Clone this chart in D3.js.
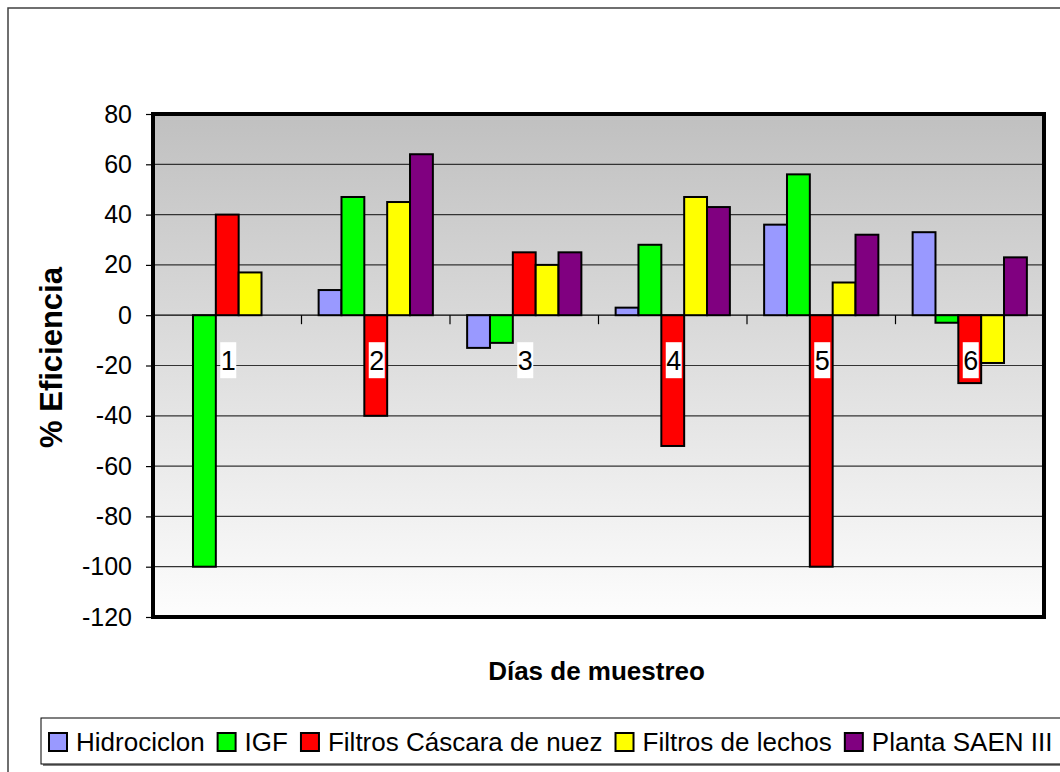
<!DOCTYPE html>
<html>
<head>
<meta charset="utf-8">
<script src="https://cdn.jsdelivr.net/npm/d3@7"></script>
<style>
  html, body { margin: 0; padding: 0; background: #fff; }
  svg { display: block; font-family: "Liberation Sans", Arial, sans-serif; }
</style>
</head>
<body>
<svg id="chart" width="1060" height="772"></svg>
<script>
// Sampling days (categories)
const days = ["1", "2", "3", "4", "5", "6"];

// Treatment stages (series) and their colours
const seriesNames = ["Hidrociclon", "IGF", "Filtros Cáscara de nuez", "Filtros de lechos", "Planta SAEN III"];
const seriesColors = ["#9999FF", "#00FF00", "#FF0000", "#FFFF00", "#800080"];

// % efficiency per day, one array per series (null = no value)
const hidrociclon = [null, 10, -13, 3, 36, 33];
const igf = [-100, 47, -11, 28, 56, -3];
const filtrosCascara = [40, -40, 25, -52, -100, -27];
const filtrosLechos = [17, 45, 20, 47, 13, -19];
const plantaSaen = [null, 64, 25, 43, 32, 23];

// Y axis ticks
const yTicks = [80, 60, 40, 20, 0, -20, -40, -60, -80, -100, -120];

const seriesValues = [hidrociclon, igf, filtrosCascara, filtrosLechos, plantaSaen];

const svg = d3.select("#chart");

// Plot area box
const plot = { left: 153, top: 114, right: 1044, bottom: 617 };

const y = d3.scaleLinear().domain([-120, 80]).range([plot.bottom, plot.top]);
const x0 = d3.scaleBand().domain(days).range([plot.left, plot.right]).padding(0);
const x1 = d3.scaleBand().domain(seriesNames).range([0, x0.bandwidth()])
  .paddingInner(0).paddingOuter(0.75);

// Outer chart frame
svg.append("rect")
  .attr("x", 8).attr("y", 8).attr("width", 1070).attr("height", 790)
  .attr("fill", "none").attr("stroke", "#404040").attr("stroke-width", 1.5);

// Plot background gradient
const defs = svg.append("defs");
const grad = defs.append("linearGradient").attr("id", "bg")
  .attr("x1", 0).attr("y1", 0).attr("x2", 0).attr("y2", 1);
grad.append("stop").attr("offset", "0%").attr("stop-color", "#c0c0c0");
grad.append("stop").attr("offset", "100%").attr("stop-color", "#fdfdfd");

svg.append("rect")
  .attr("x", plot.left).attr("y", plot.top)
  .attr("width", plot.right - plot.left).attr("height", plot.bottom - plot.top)
  .attr("fill", "url(#bg)");

// Horizontal gridlines
svg.append("g")
  .selectAll("line")
  .data(yTicks)
  .join("line")
  .attr("x1", plot.left).attr("x2", plot.right)
  .attr("y1", d => y(d)).attr("y2", d => y(d))
  .attr("stroke", d => d === 0 ? "#000" : "#333")
  .attr("stroke-width", 1.2);

// Category tick marks on the zero line
svg.append("g")
  .selectAll("line")
  .data(days.slice(1))
  .join("line")
  .attr("x1", d => x0(d)).attr("x2", d => x0(d))
  .attr("y1", y(0)).attr("y2", y(0) + 9)
  .attr("stroke", "#000").attr("stroke-width", 1.2);

// Bars
const groups = svg.append("g")
  .selectAll("g")
  .data(days)
  .join("g")
  .attr("transform", d => `translate(${x0(d)},0)`);

groups.selectAll("rect")
  .data((d, i) => seriesNames.map((s, j) => ({ s, j, v: seriesValues[j][i] })).filter(e => e.v !== null))
  .join("rect")
  .attr("x", e => x1(e.s))
  .attr("width", x1.bandwidth())
  .attr("y", e => y(Math.max(0, e.v)))
  .attr("height", e => Math.abs(y(e.v) - y(0)))
  .attr("fill", e => seriesColors[e.j])
  .attr("stroke", "#000")
  .attr("stroke-width", 2);

// Category labels with white backing, placed below the zero line
const catLabels = svg.append("g")
  .selectAll("g")
  .data(days)
  .join("g")
  .attr("transform", d => `translate(${x0(d) + x0.bandwidth() / 2 + 1},${y(0) + 45})`);

catLabels.append("rect")
  .attr("x", -8).attr("y", -18).attr("width", 16).attr("height", 36)
  .attr("fill", "#fff");

catLabels.append("text")
  .attr("text-anchor", "middle")
  .attr("dy", "0.36em")
  .attr("font-size", 27)
  .attr("fill", "#000")
  .text(d => d);

// Y axis (plain hyphen for negatives)
const yAxis = d3.axisLeft(y).tickValues(yTicks).tickSize(7).tickPadding(14).tickFormat(d => String(d));
const yg = svg.append("g").attr("transform", `translate(${plot.left},0)`).call(yAxis);
yg.select(".domain").remove();
yg.selectAll(".tick line").attr("stroke", "#000").attr("stroke-width", 1.2);
yg.selectAll(".tick text")
  .attr("font-size", 25)
  .attr("font-family", "'Liberation Sans', Arial, sans-serif")
  .attr("fill", "#000");

// Plot border
svg.append("rect")
  .attr("x", plot.left).attr("y", plot.top)
  .attr("width", plot.right - plot.left).attr("height", plot.bottom - plot.top)
  .attr("fill", "none").attr("stroke", "#000").attr("stroke-width", 4);

// Axis titles
svg.append("text")
  .attr("transform", `translate(62,${(plot.top + plot.bottom) / 2 - 8}) rotate(-90)`)
  .attr("text-anchor", "middle")
  .attr("font-size", 31)
  .attr("font-weight", "bold")
  .text("% Eficiencia");

svg.append("text")
  .attr("x", (plot.left + plot.right) / 2 - 2)
  .attr("y", 680)
  .attr("text-anchor", "middle")
  .attr("font-size", 26)
  .attr("font-weight", "bold")
  .text("Días de muestreo");

// Legend
const legend = { x: 41, y: 718, h: 46 };
svg.append("rect")
  .attr("x", legend.x + 2).attr("y", legend.y + 2).attr("width", 1100).attr("height", legend.h)
  .attr("fill", "#808080");
svg.append("rect")
  .attr("x", legend.x).attr("y", legend.y).attr("width", 1100).attr("height", legend.h)
  .attr("fill", "#fff").attr("stroke", "#000").attr("stroke-width", 1);

const legendG = svg.append("g");
let cx = legend.x + 8;
seriesNames.forEach((name, j) => {
  legendG.append("rect")
    .attr("x", cx).attr("y", legend.y + 15)
    .attr("width", 18).attr("height", 18)
    .attr("fill", seriesColors[j]).attr("stroke", "#000").attr("stroke-width", 2);
  const t = legendG.append("text")
    .attr("x", cx + 27).attr("y", legend.y + 24)
    .attr("dy", "0.35em")
    .attr("font-size", 26)
    .text(name);
  cx += 27 + t.node().getComputedTextLength() + 13;
});
</script>
</body>
</html>
